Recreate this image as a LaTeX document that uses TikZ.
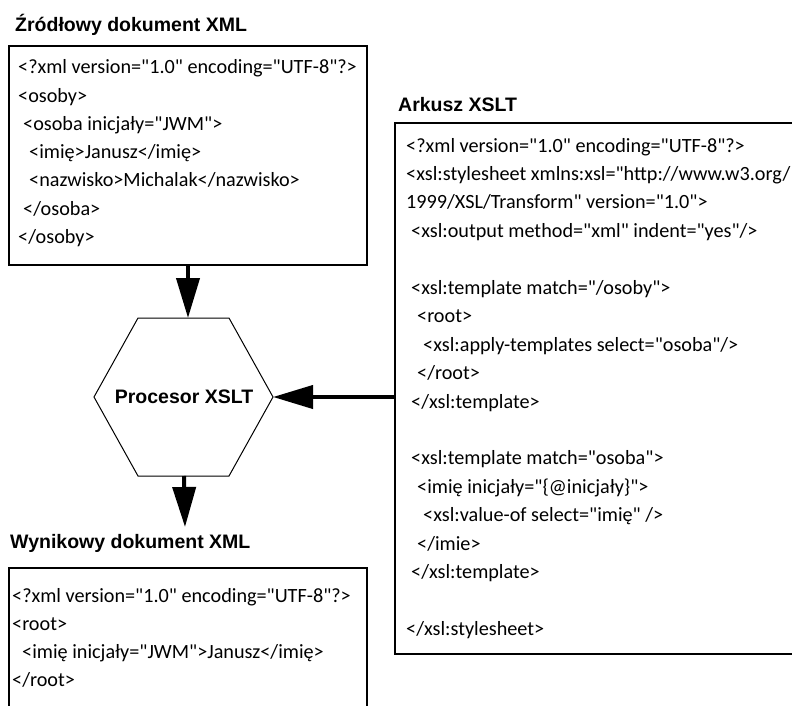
\documentclass[tikz,border=0pt]{standalone}
\usepackage{fontspec}
\setmainfont{Carlito}[Ligatures=TeXOff]
\newfontfamily\titlefamily{Liberation Sans}
\usetikzlibrary{arrows.meta}
\begin{document}
\begin{tikzpicture}[x=1pt,y=-1pt,
  box/.style={draw, line width=1.8pt, anchor=north west, inner sep=0pt, outer sep=0pt},
  code/.style={font=\fontsize{20.2}{24}\selectfont, anchor=base west, inner sep=0pt},
  title/.style={font=\titlefamily\bfseries\fontsize{19.5}{23}\selectfont, anchor=base west, inner sep=0pt},
  arr/.style={line width=4pt, -{Triangle[length=40pt,width=23pt]}},
  hexline/.style={line width=1pt, line join=miter},
  hexlabel/.style={inner sep=0pt, font=\titlefamily\bfseries\fontsize{19.5}{23}\selectfont}
]
\useasboundingbox (0,0) rectangle (792,706);
\clip (0,0) rectangle (792,706);

% titles
\node[title] (srctitle) at (15,32) {Źródłowy dokument XML};
\node[title] (xsltitle) at (398,112) {Arkusz XSLT};
\node[title] (outtitle) at (10,548) {Wynikowy dokument XML};

% boxes
\node[box, minimum width=358pt, minimum height=219pt] (src) at (9,46) {};
\node[box, minimum width=430pt, minimum height=531pt] (xsl) at (395,123) {};
\node[box, minimum width=358pt, minimum height=170pt] (out) at (9,568) {};

% source code
\node[code] (s1) at (18,74) {<?xml version="1.0" encoding="UTF-8"?>};
\node[code] (s2) at (18,102.2) {<osoby>};
\node[code] (s3) at (18,130.4) {\hspace*{5pt}<osoba inicjały="JWM">};
\node[code] (s4) at (18,158.6) {\hspace*{11pt}<imię>Janusz</imię>};
\node[code] (s5) at (18,186.8) {\hspace*{11pt}<nazwisko>Michalak</nazwisko>};
\node[code] (s6) at (18,215) {\hspace*{5pt}</osoba>};
\node[code] (s7) at (18,243.2) {</osoby>};

% xslt code
\node[code] (x1) at (406,152) {<?xml version="1.0" encoding="UTF-8"?>};
\node[code] (x2) at (406,180.45) {<xsl:stylesheet xmlns:xsl="http://www.w3.org/};
\node[code] (x3) at (406,208.9) {1999/XSL/Transform" version="1.0">};
\node[code] (x4) at (406,237.35) {\hspace*{5pt}<xsl:output method="xml" indent="yes"/>};
\node[code] (x6) at (406,294.25) {\hspace*{5pt}<xsl:template match="/osoby">};
\node[code] (x7) at (406,322.7) {\hspace*{11pt}<root>};
\node[code] (x8) at (406,351.15) {\hspace*{17pt}<xsl:apply-templates select="osoba"/>};
\node[code] (x9) at (406,379.6) {\hspace*{11pt}</root>};
\node[code] (x10) at (406,408.05) {\hspace*{5pt}</xsl:template>};
\node[code] (x12) at (406,464.95) {\hspace*{5pt}<xsl:template match="osoba">};
\node[code] (x13) at (406,493.4) {\hspace*{11pt}<imię inicjały="\{@inicjały\}">};
\node[code] (x14) at (406,521.85) {\hspace*{17pt}<xsl:value-of select="imię" />};
\node[code] (x15) at (406,550.3) {\hspace*{11pt}</imie>};
\node[code] (x16) at (406,578.75) {\hspace*{5pt}</xsl:template>};
\node[code] (x18) at (406,635.65) {</xsl:stylesheet>};

% output code
\node[code] (o1) at (12,602) {<?xml version="1.0" encoding="UTF-8"?>};
\node[code] (o2) at (12,630.3) {<root>};
\node[code] (o3) at (12,658.6) {\hspace*{10pt}<imię inicjały="JWM">Janusz</imię>};
\node[code] (o4) at (12,686.9) {</root>};

% processor (hexagon)
\coordinate (hexW) at (94,397);
\coordinate (hexE) at (273,397);
\coordinate (hexN) at (184,318);
\coordinate (hexS) at (184,476);
\draw[hexline] (hexW) -- (138,318) -- (229,318) -- (hexE) -- (229,476) -- (138,476) -- cycle;
\node[hexlabel] (hex) at (184,397) {Procesor XSLT};

% connectors
\coordinate (outtip) at (185,527);
\draw[arr] (src.south) -- (src.south |- hexN);
\draw[arr] (hexS) -- (outtip);
\draw[arr] (xsl.west |- hexE) -- (hexE);
\end{tikzpicture}
\end{document}
